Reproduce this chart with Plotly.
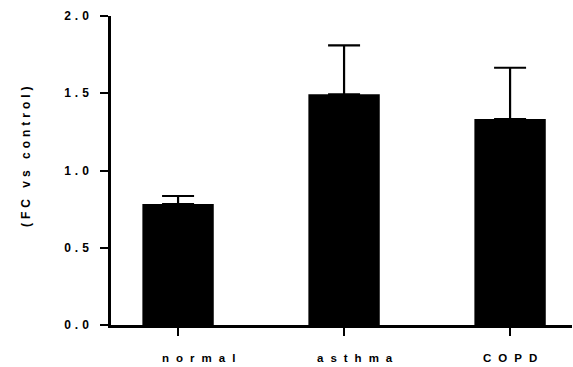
import plotly.graph_objects as go

categories = ["normal", "asthma", "COPD"]
values = [0.783, 1.493, 1.333]
errors_up = [0.052, 0.317, 0.332]
y_ticks = [0.0, 0.5, 1.0, 1.5, 2.0]
y_title = "(FC vs control)"

def spaced(s, px=4):
    return '<span style="letter-spacing:%dpx">%s</span>' % (px, s)

xs = list(range(len(categories)))

fig = go.Figure()
fig.add_trace(go.Bar(
    x=xs,
    y=values,
    width=0.43,
    marker=dict(color="black", line=dict(color="black", width=0)),
    error_y=dict(type="data", array=errors_up, arrayminus=[0]*len(values),
                 symmetric=False, color="black", thickness=2.2, width=16),
))

font = dict(family="Liberation Sans, Arial, sans-serif", size=12, color="black")
label_font = dict(family="Liberation Sans, Arial, sans-serif", size=11.5, color="black")

# category labels (in the source they sit slightly right of the ticks)
label_offset = [0.125, 0.065, 0.0]
annotations = []
for i, c in enumerate(categories):
    annotations.append(dict(
        x=xs[i] + label_offset[i], y=0, xref="x", yref="y",
        text="<b>" + spaced(c, 7) + "</b>", showarrow=False,
        xanchor="center", yanchor="top", yshift=-25, xshift=3.5,
        font=label_font,
    ))
annotations.append(dict(
    x=0, y=0.55, xref="paper", yref="paper",
    text="<b>" + spaced(y_title, 4) + "</b>", showarrow=False, textangle=-90,
    xanchor="center", yanchor="middle", xshift=-85,
    font=font,
))

fig.update_layout(
    width=573, height=367,
    margin=dict(l=111, r=1, t=16, b=42, autoexpand=False),
    paper_bgcolor="white", plot_bgcolor="white",
    showlegend=False,
    font=font,
    annotations=annotations,
    xaxis=dict(
        range=[-0.404, 2.373],
        tickmode="array",
        tickvals=xs,
        ticktext=["" for c in categories],
        showline=True, linecolor="black", linewidth=2.5,
        ticks="outside", ticklen=8, tickwidth=2.2, tickcolor="black",
        showgrid=False, zeroline=False,
        tickfont=font, automargin=False,
    ),
    yaxis=dict(
        range=[0, 2.0],
        tickmode="array",
        tickvals=y_ticks,
        ticktext=["<b>" + spaced("%.1f" % v, 4) + "</b>" for v in y_ticks],
        showline=True, linecolor="black", linewidth=2.5,
        ticks="outside", ticklen=8, tickwidth=2.2, tickcolor="black",
        showgrid=False, zeroline=False,
        ticklabelstandoff=5,
        tickfont=font, automargin=False,
    ),
)
fig.write_html("out.html", config={"displayModeBar": False},
               post_script="document.body.style.margin='0';document.body.style.overflow='hidden';")
